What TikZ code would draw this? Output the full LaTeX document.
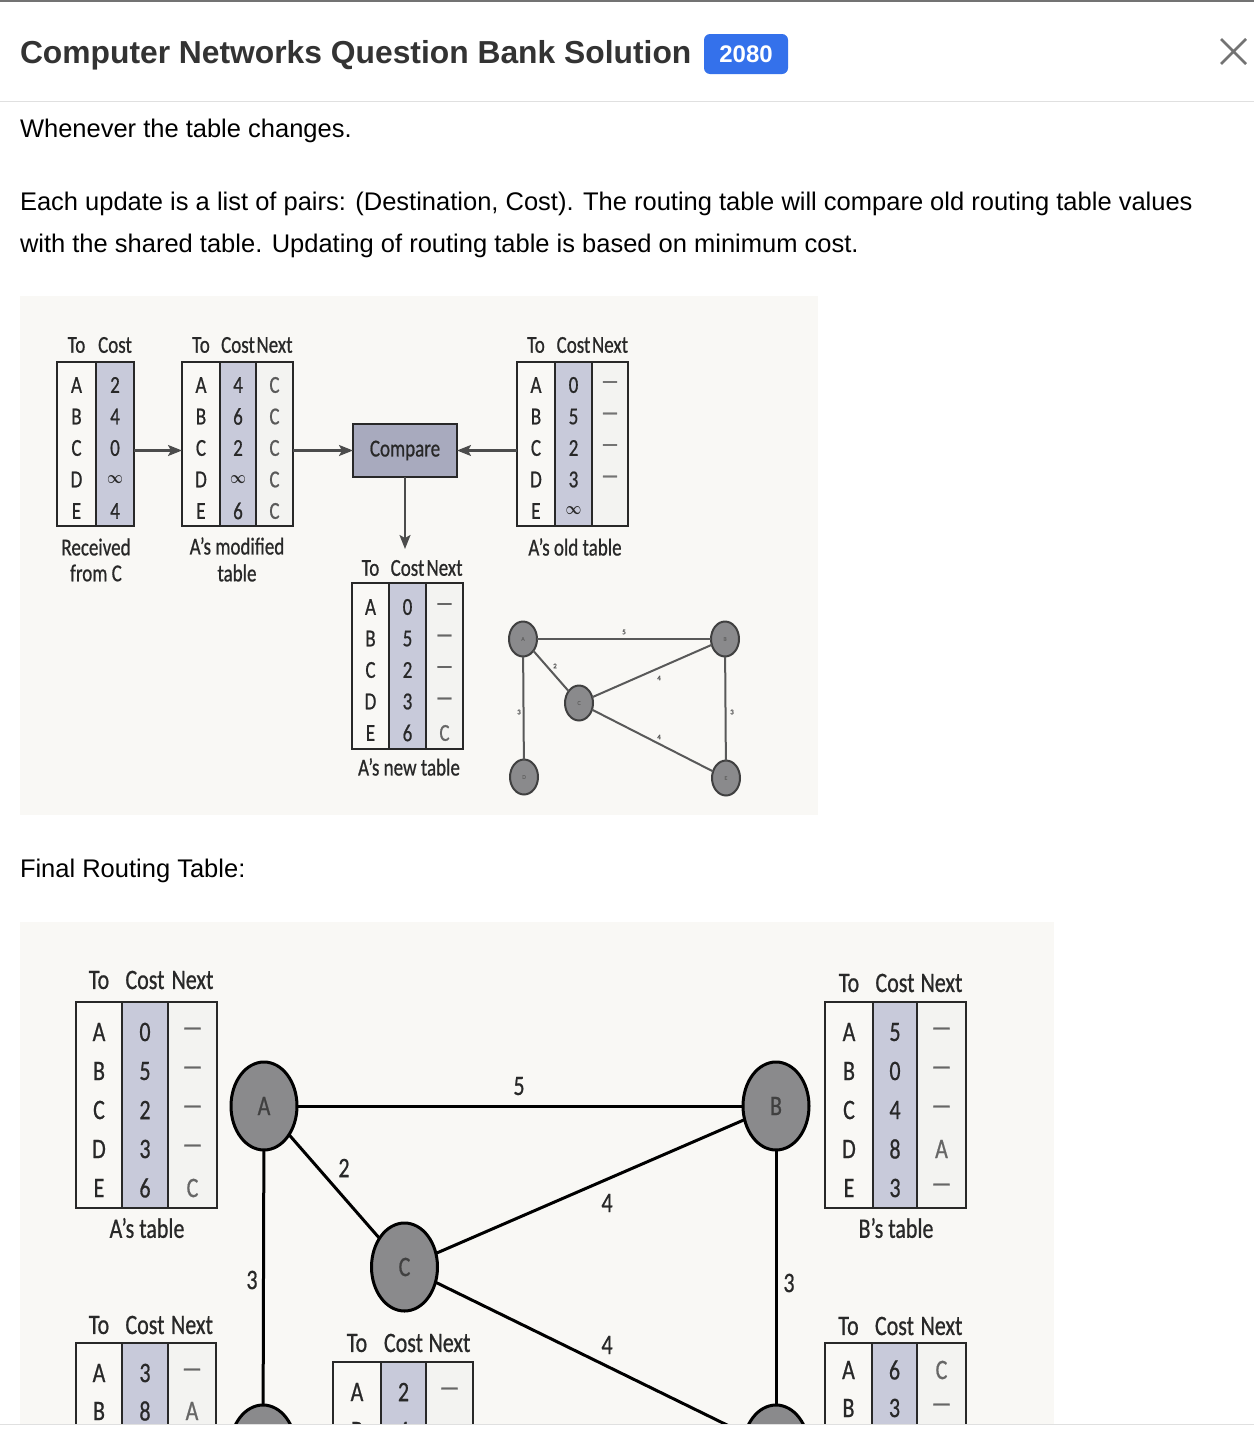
\documentclass[tikz,border=0pt]{standalone}
\usepackage{fontspec}
\usepackage{graphicx}
\setmainfont{Liberation Sans}
\newfontfamily\tf[FakeBold=0.8]{Carlito}
\usetikzlibrary{shapes.geometric,arrows.meta}
\definecolor{titlec}{RGB}{51,51,51}
\definecolor{badge}{RGB}{52,113,235}
\definecolor{panel}{RGB}{249,248,245}
\definecolor{colb}{RGB}{200,202,218}
\definecolor{colc}{RGB}{243,243,241}
\definecolor{cmpf}{RGB}{168,170,190}
\definecolor{nodef}{RGB}{138,138,140}
\definecolor{ink}{RGB}{40,40,40}
\newcommand\vs[1]{\scalebox{1}[1.28]{#1}}
\newcommand\inff{\scalebox{0.8}{$\boldsymbol{\infty}$}}
\usepackage{amsmath}
\begin{document}
\begin{tikzpicture}[x=1pt,y=-1pt,
 every node/.style={inner sep=0pt, outer sep=0pt},
 body/.style={anchor=base west, font=\fontsize{25.5}{30}\selectfont, text=black},
 frame1/.style={draw=ink, line width=2pt, rectangle},
 frame2/.style={draw=ink, line width=2.5pt, rectangle},
 t1/.style={font=\tf\fontsize{19}{19}\selectfont, text=ink},
 t2/.style={font=\tf\fontsize{22}{22}\selectfont, text=ink},
 arr/.style={draw=black!70, line width=2.2pt, -{Stealth[length=14pt,width=11pt,inset=3pt]}},
 gnode1/.style={ellipse, draw=black!75, line width=2pt, fill=nodef, minimum width=28pt, minimum height=35pt, font=\tf\fontsize{6}{6}\selectfont, text=black!60},
 gnode2/.style={ellipse, draw=black, line width=3pt, fill=nodef, minimum width=66pt, minimum height=88pt, font=\tf\fontsize{22}{22}\selectfont, text=black!75},
 edge1/.style={draw=black!65, line width=2pt},
 edge2/.style={draw=black, line width=3pt},
 elab1/.style={font=\tf\fontsize{7}{7}\selectfont, text=black!65},
 elab2/.style={font=\tf\fontsize{22}{22}\selectfont, text=ink},
]
\useasboundingbox (0,0) rectangle (1254,1438);
\fill[white] (0,0) rectangle (1254,1438);
% header
\draw[black!55, line width=2pt] (0,1) -- (1254,1);
\draw[black!12, line width=1pt] (0,101.5) -- (1254,101.5);
\node[anchor=base west, font=\bfseries\fontsize{31.8}{36}\selectfont, text=titlec] (title) at (20,63) {Computer Networks Question Bank Solution};
\node[fill=badge, rounded corners=6pt, minimum width=84pt, minimum height=40pt, text=white, font=\bfseries\fontsize{24}{24}\selectfont] (badge) at (746,54) {2080};
\coordinate (x1) at (1221,39); \coordinate (x2) at (1246,64);
\coordinate (x3) at (1246,39); \coordinate (x4) at (1221,64);
\draw[black!55, line width=2.6pt] (x1) -- (x2) (x3) -- (x4);
% body text
\node[body] (p1) at (20,137) {Whenever the table changes.};
\node[body] (p2) at (20,210) {Each update is a list of pairs: (Destination, Cost). The routing table will compare old routing table values};
\node[body] (p3) at (20,252) {with the shared table. Updating of routing table is based on minimum cost.};
\node[body] (p4) at (20,877) {Final Routing Table:};

% ================= figure 1 =================
\fill[panel] (20,296) rectangle (818,815);
% received from C
\fill[colb] (96,362) rectangle (134,526);
\node[frame1, minimum width=77pt, minimum height=164pt] (rcv) at (95.5,444) {};
\draw[ink, line width=2pt] (96,362) -- (96,526);
\node[t1] (rcv-h1) at (76.5,345) {\vs{To}};
\node[t1] (rcv-h2) at (115,345) {\vs{Cost}};
\foreach \p/\q [count=\i from 0] in {A/2,B/4,C/0,D/\inff,E/4}{
 \node[t1] (rcv-l\i) at (76.5,{385+31.5*\i}) {\vs{\p}};
 \node[t1] (rcv-c\i) at (115,{385+31.5*\i}) {\vs{\q}};
}
\node[t1] (rcv-cap1) at (96,547) {\vs{Received}};
\node[t1] (rcv-cap2) at (96,573) {\vs{from C}};
% A's modified table
\fill[colb] (220,362) rectangle (256,526);
\fill[colc] (256,362) rectangle (293,526);
\node[frame1, minimum width=111pt, minimum height=164pt] (mod) at (237.5,444) {};
\draw[ink, line width=2pt] (220,362) -- (220,526) (256,362) -- (256,526);
\node[t1] (mod-h1) at (201,345) {\vs{To}};
\node[t1] (mod-h2) at (238,345) {\vs{Cost}};
\node[t1] (mod-h3) at (274.5,345) {\vs{Next}};
\foreach \p/\q/\r [count=\i from 0] in {A/4/C,B/6/C,C/2/C,D/\inff/C,E/6/C}{
 \node[t1] (mod-l\i) at (201,{385+31.5*\i}) {\vs{\p}};
 \node[t1] (mod-c\i) at (238,{385+31.5*\i}) {\vs{\q}};
 \node[t1, text=black!65] (mod-n\i) at (274.5,{385+31.5*\i}) {\vs{\r}};
}
\node[t1] (mod-cap1) at (237,546) {\vs{A’s modified}};
\node[t1] (mod-cap2) at (237,573) {\vs{table}};
% compare
\node[draw=ink, line width=2pt, fill=cmpf, minimum width=104pt, minimum height=53pt, t1] (cmp) at (405,450.5) {\vs{Compare}};
% A's old table
\fill[colb] (555,362) rectangle (592,526);
\fill[colc] (592,362) rectangle (628,526);
\node[frame1, minimum width=111pt, minimum height=164pt] (old) at (572.5,444) {};
\draw[ink, line width=2pt] (555,362) -- (555,526) (592,362) -- (592,526);
\node[t1] (old-h1) at (536,345) {\vs{To}};
\node[t1] (old-h2) at (573.5,345) {\vs{Cost}};
\node[t1] (old-h3) at (610,345) {\vs{Next}};
\foreach \p/\q/\r [count=\i from 0] in {A/0/—,B/5/—,C/2/—,D/3/—}{
 \node[t1] (old-l\i) at (536,{385+31.5*\i}) {\vs{\p}};
 \node[t1] (old-c\i) at (573.5,{385+31.5*\i}) {\vs{\q}};
 \node[t1, text=black!55] (old-n\i) at (610,{385+31.5*\i}) {\vs{\r}};
}
\node[t1] (old-l4) at (536,511) {\vs{E}};
\node[t1] (old-c4) at (573.5,511) {\vs{\inff}};
\node[t1] (old-cap) at (575,547) {\vs{A’s old table}};
% A's new table
\fill[colb] (389,583) rectangle (426,749);
\fill[colc] (426,583) rectangle (463,749);
\node[frame1, minimum width=111pt, minimum height=166pt] (new) at (407.5,666) {};
\draw[ink, line width=2pt] (389,583) -- (389,749) (426,583) -- (426,749);
\node[t1] (new-h1) at (370.5,568) {\vs{To}};
\node[t1] (new-h2) at (407.5,568) {\vs{Cost}};
\node[t1] (new-h3) at (444.5,568) {\vs{Next}};
\foreach \p/\q/\r [count=\i from 0] in {A/0/—,B/5/—,C/2/—,D/3/—,E/6/C}{
 \node[t1] (new-l\i) at (370.5,{607+31.5*\i}) {\vs{\p}};
 \node[t1] (new-c\i) at (407.5,{607+31.5*\i}) {\vs{\q}};
 \node[t1, text=black!60] (new-n\i) at (444.5,{607+31.5*\i}) {\vs{\r}};
}
\node[t1] (new-cap) at (409,767) {\vs{A’s new table}};
% arrows
\coordinate (cmpdown) at (405,549);
\draw[arr] (rcv.east |- cmp.west) -- (mod.west |- cmp.west);
\draw[arr] (mod.east |- cmp.west) -- (cmp.west);
\draw[arr] (old.west |- cmp.east) -- (cmp.east);
\draw[arr] (cmp.south) -- (cmpdown);
% small graph
\node[gnode1] (ga) at (523,639) {A};
\node[gnode1] (gb) at (725,639) {B};
\node[gnode1] (gc) at (579,703) {C};
\node[gnode1] (gd) at (524,777) {D};
\node[gnode1] (ge) at (726,778) {E};
\draw[edge1] (ga) -- (gb);
\draw[edge1] (ga) -- (gc);
\draw[edge1] (gc) -- (gb);
\draw[edge1] (ga) -- (gd);
\draw[edge1] (gb) -- (ge);
\draw[edge1] (gc) -- (ge);
\node[elab1] (g5) at (624,632) {5};
\node[elab1] (g2) at (555,666) {2};
\node[elab1] (g4a) at (659,678) {4};
\node[elab1] (g3a) at (519,712) {3};
\node[elab1] (g3b) at (732,712) {3};
\node[elab1] (g4b) at (659,737) {4};

% ================= figure 2 =================
\begin{scope}
\clip (0,0) rectangle (1254,1424);
\fill[panel] (20,922) rectangle (1054,1430);
% A's table
\fill[colb] (122,1002) rectangle (168,1208);
\fill[colc] (168,1002) rectangle (217,1208);
\node[frame2, minimum width=141pt, minimum height=206pt] (at) at (146.5,1105) {};
\draw[ink, line width=2.5pt] (122,1002) -- (122,1208) (168,1002) -- (168,1208);
\node[t2] (at-h1) at (99,980) {\vs{To}};
\node[t2] (at-h2) at (145,980) {\vs{Cost}};
\node[t2] (at-h3) at (192.5,980) {\vs{Next}};
\foreach \p/\q/\r [count=\i from 0] in {A/0/—,B/5/—,C/2/—,D/3/—,E/6/C}{
 \node[t2] (at-l\i) at (99,{1032+39*\i}) {\vs{\p}};
 \node[t2] (at-c\i) at (145,{1032+39*\i}) {\vs{\q}};
 \node[t2, text=black!60] (at-n\i) at (192.5,{1032+39*\i}) {\vs{\r}};
}
\node[t2] (at-cap) at (147,1228) {\vs{A’s table}};
% B's table
\fill[colb] (873,1002) rectangle (917,1208);
\fill[colc] (917,1002) rectangle (966,1208);
\node[frame2, minimum width=141pt, minimum height=206pt] (bt) at (895.5,1105) {};
\draw[ink, line width=2.5pt] (873,1002) -- (873,1208) (917,1002) -- (917,1208);
\node[t2] (bt-h1) at (849,983) {\vs{To}};
\node[t2] (bt-h2) at (895,983) {\vs{Cost}};
\node[t2] (bt-h3) at (941.5,983) {\vs{Next}};
\foreach \p/\q/\r [count=\i from 0] in {A/5/—,B/0/—,C/4/—,D/8/A,E/3/—}{
 \node[t2] (bt-l\i) at (849,{1032+39*\i}) {\vs{\p}};
 \node[t2] (bt-c\i) at (895,{1032+39*\i}) {\vs{\q}};
 \node[t2, text=black!60] (bt-n\i) at (941.5,{1032+39*\i}) {\vs{\r}};
}
\node[t2] (bt-cap) at (896,1228) {\vs{B’s table}};
% D's table
\fill[colb] (122,1343) rectangle (168,1440);
\fill[colc] (168,1343) rectangle (216,1440);
\node[frame2, minimum width=140pt, minimum height=200pt] (dt) at (146,1443) {};
\draw[ink, line width=2.5pt] (122,1343) -- (122,1440) (168,1343) -- (168,1440);
\node[t2] (dt-h1) at (99,1325) {\vs{To}};
\node[t2] (dt-h2) at (145,1325) {\vs{Cost}};
\node[t2] (dt-h3) at (192,1325) {\vs{Next}};
\foreach \p/\q/\r [count=\i from 0] in {A/3/—,B/8/A}{
 \node[t2] (dt-l\i) at (99,{1373+38*\i}) {\vs{\p}};
 \node[t2] (dt-c\i) at (145,{1373+38*\i}) {\vs{\q}};
 \node[t2, text=black!60] (dt-n\i) at (192,{1373+38*\i}) {\vs{\r}};
}
% C's table
\fill[colb] (381,1362) rectangle (426,1440);
\fill[colc] (426,1362) rectangle (473,1440);
\node[frame2, minimum width=140pt, minimum height=200pt] (ct) at (403,1462) {};
\draw[ink, line width=2.5pt] (381,1362) -- (381,1440) (426,1362) -- (426,1440);
\node[t2] (ct-h1) at (357,1343) {\vs{To}};
\node[t2] (ct-h2) at (403.5,1343) {\vs{Cost}};
\node[t2] (ct-h3) at (449.5,1343) {\vs{Next}};
\foreach \p/\q/\r [count=\i from 0] in {A/2/—,B/4/—}{
 \node[t2] (ct-l\i) at (357,{1392+39*\i}) {\vs{\p}};
 \node[t2] (ct-c\i) at (403.5,{1392+39*\i}) {\vs{\q}};
 \node[t2, text=black!60] (ct-n\i) at (449.5,{1392+39*\i}) {\vs{\r}};
}
% E's table
\fill[colb] (872,1343) rectangle (917,1440);
\fill[colc] (917,1343) rectangle (966,1440);
\node[frame2, minimum width=141pt, minimum height=200pt] (et) at (895.5,1443) {};
\draw[ink, line width=2.5pt] (872,1343) -- (872,1440) (917,1343) -- (917,1440);
\node[t2] (et-h1) at (848.5,1326) {\vs{To}};
\node[t2] (et-h2) at (894.5,1326) {\vs{Cost}};
\node[t2] (et-h3) at (941.5,1326) {\vs{Next}};
\foreach \p/\q/\r [count=\i from 0] in {A/6/C,B/3/—}{
 \node[t2] (et-l\i) at (848.5,{1370+38*\i}) {\vs{\p}};
 \node[t2] (et-c\i) at (894.5,{1370+38*\i}) {\vs{\q}};
 \node[t2, text=black!60] (et-n\i) at (941.5,{1370+38*\i}) {\vs{\r}};
}
% big graph
\node[gnode2] (A) at (264,1106) {\vs{A}};
\node[gnode2] (B) at (776,1106) {\vs{B}};
\node[gnode2] (C) at (404.5,1267) {\vs{C}};
\node[gnode2] (D) at (263,1449) {};
\node[gnode2] (E) at (776,1449) {};
\draw[edge2] (A) -- (B);
\draw[edge2] (A) -- (C);
\draw[edge2] (C) -- (B);
\draw[edge2] (A) -- (D);
\draw[edge2] (B) -- (E);
\draw[edge2] (C) -- (E);
\node[elab2] (l5) at (519,1086) {\vs{5}};
\node[elab2] (l2) at (344,1168) {\vs{2}};
\node[elab2] (l4a) at (607,1203) {\vs{4}};
\node[elab2] (l3a) at (252,1280) {\vs{3}};
\node[elab2] (l3b) at (789,1283) {\vs{3}};
\node[elab2] (l4b) at (607,1345) {\vs{4}};
\end{scope}
% bottom strip
\fill[white] (0,1424) rectangle (1254,1438);
\draw[black!12, line width=1pt] (0,1424.5) -- (1254,1424.5);
\end{tikzpicture}
\end{document}
